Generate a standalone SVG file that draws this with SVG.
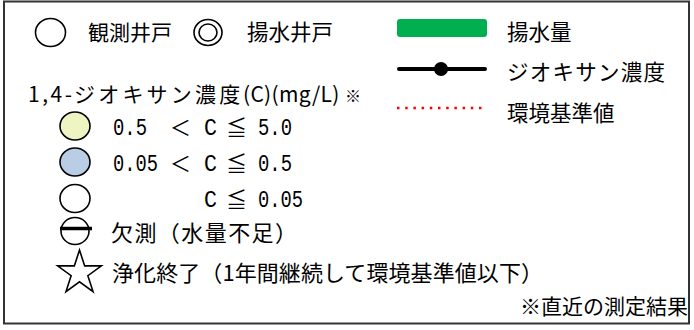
<svg xmlns="http://www.w3.org/2000/svg" width="694" height="330" viewBox="0 0 694 330">
<style>
.t{font-family:"Noto Sans CJK JP","Liberation Sans",sans-serif;font-size:21px;fill:#000}
.m{font-family:"Liberation Mono","Noto Sans CJK JP",monospace;font-size:24px;fill:#000}
.r{font-size:21.5px}
.b{font-size:22px}
.c{stroke:#000;stroke-width:1.6}
</style>
<rect x="4" y="1.5" width="685" height="322" fill="#fff" stroke="#333" stroke-width="2"/>
<g id="observation-well">
<ellipse class="c" cx="50.5" cy="32.5" rx="15" ry="14" fill="#fff"/>
<text class="t" x="88" y="40">観測井戸</text>
</g>
<g id="pumping-well">
<ellipse class="c" cx="208" cy="32.5" rx="14" ry="13" fill="#fff"/>
<ellipse class="c" cx="208" cy="32.5" rx="9" ry="8.5" fill="#fff"/>
<text class="t r" x="247" y="40">揚水井戸</text>
</g>
<g id="heading">
<text class="t" y="102" font-size="20"><tspan x="28" font-size="21" letter-spacing="2.5">1,4-</tspan><tspan x="74" letter-spacing="3.2">ジオキサン濃度</tspan><tspan x="243" font-size="21" letter-spacing="0.3">(C)(mg/L)</tspan><tspan x="345" font-size="16">※</tspan></text>
</g>
<g id="range-high">
<ellipse class="c" cx="75" cy="126" rx="15" ry="14" fill="#EEF5C3"/>
<text class="m" y="135"><tspan x="113" textLength="34" lengthAdjust="spacingAndGlyphs">0.5</tspan><tspan class="t" x="170">＜</tspan><tspan x="204" textLength="13" lengthAdjust="spacingAndGlyphs">C</tspan><tspan class="t" x="226">≦</tspan><tspan x="258" textLength="34" lengthAdjust="spacingAndGlyphs">5.0</tspan></text>
</g>
<g id="range-mid">
<ellipse class="c" cx="75" cy="162" rx="15" ry="14" fill="#B9CDE5"/>
<text class="m" y="171"><tspan x="113" textLength="45" lengthAdjust="spacingAndGlyphs">0.05</tspan><tspan class="t" x="170">＜</tspan><tspan x="204" textLength="13" lengthAdjust="spacingAndGlyphs">C</tspan><tspan class="t" x="226">≦</tspan><tspan x="258" textLength="34" lengthAdjust="spacingAndGlyphs">0.5</tspan></text>
</g>
<g id="range-low">
<ellipse class="c" cx="75" cy="198.5" rx="15" ry="14" fill="#fff"/>
<text class="m" y="207"><tspan x="204" textLength="13" lengthAdjust="spacingAndGlyphs">C</tspan><tspan class="t" x="226">≦</tspan><tspan x="258" textLength="45" lengthAdjust="spacingAndGlyphs">0.05</tspan></text>
</g>
<g id="missing">
<ellipse class="c" cx="75" cy="231" rx="14" ry="13.5" fill="#fff"/>
<line x1="60" y1="228.5" x2="92" y2="228.5" stroke="#000" stroke-width="3.5"/>
<text class="t b" x="111" y="241" textLength="186" lengthAdjust="spacing">欠測（水量不足）</text>
</g>
<g id="purified">
<path class="c" fill="#fff" d="M79.5,250 L84.67,265.88 L101.37,265.89 L87.87,275.72 L93.02,291.61 L79.5,281.8 L65.98,291.61 L71.13,275.72 L57.63,265.89 L74.33,265.88 Z"/>
<text class="t b" x="112" y="281" textLength="431" lengthAdjust="spacing">浄化終了（1年間継続して環境基準値以下）</text>
</g>
<g id="note">
<text class="t" x="688" y="314" text-anchor="end" font-size="22.5">※直近の測定結果</text>
</g>
<g id="pumping-volume">
<rect x="397" y="19" width="90" height="18" rx="3" fill="#00B050"/>
<text class="t r" x="507" y="40">揚水量</text>
</g>
<g id="dioxane-line">
<line x1="399" y1="69" x2="485" y2="69" stroke="#000" stroke-width="4" stroke-linecap="round"/>
<circle cx="441" cy="69" r="7" fill="#000"/>
<text class="t r" x="507" y="80" textLength="158" lengthAdjust="spacing">ジオキサン濃度</text>
</g>
<g id="env-standard">
<line x1="397" y1="108" x2="482" y2="108" stroke="#FF0000" stroke-width="2.5" stroke-dasharray="2.5 5.7"/>
<text class="t r" x="507" y="121">環境基準値</text>
</g>
</svg>
